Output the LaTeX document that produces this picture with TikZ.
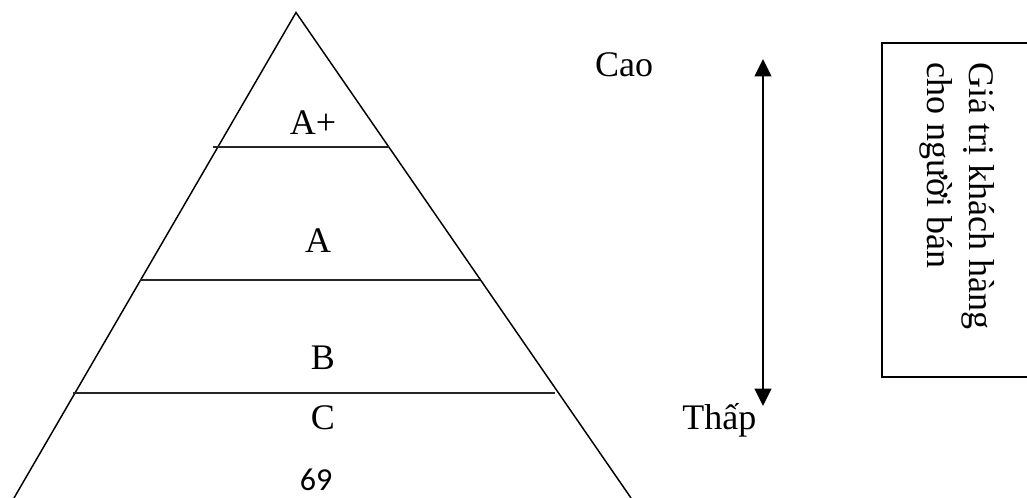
\documentclass[tikz,border=0pt]{standalone}
\usepackage{fontspec}
\setmainfont{Liberation Serif}
\newfontfamily\pagenumfont{Carlito}
\usetikzlibrary{arrows.meta}

\begin{document}
\begin{tikzpicture}[
  x=0.75pt,y=-0.75pt,
  >={Triangle[width=12.5pt,length=13pt]},
  edge/.style={line width=1.1pt,black},
  level/.style={line width=1.5pt,black!85},
  scale arrow/.style={<->,line width=1.5pt,black},
  label/.style={inner sep=0pt,anchor=base,font=\fontsize{27}{32}\selectfont}
]
  \useasboundingbox (0,0) rectangle (1027,498);

  % pyramid
  \coordinate (apex) at (296,12.5);
  \coordinate (baseL) at (14,498);
  \coordinate (baseR) at (631,498);
  \draw[edge] (baseL) -- (apex) -- (baseR);

  \coordinate (aplusL) at (213,147);
  \coordinate (aplusR) at (389,147);
  \coordinate (aL) at (140,280.5);
  \coordinate (aR) at (480,280.5);
  \coordinate (bL) at (73,393.5);
  \coordinate (bR) at (555,393.5);
  \draw[level] (aplusL) -- (aplusR);
  \draw[level] (aL) -- (aR);
  \draw[level] (bL) -- (bR);

  \node[label] (aplus) at (313,135) {A+};
  \node[label] (a) at (318,253) {A};
  \node[label] (b) at (323,370) {B};
  \node[label] (c) at (323,430) {C};
  \node[inner sep=0pt,anchor=base,font=\pagenumfont\fontsize{24}{28}\selectfont]
    (pagenum) at (316,490) {69};

  % high / low scale
  \node[label] (high) at (624,77) {Cao};
  \node[label,anchor=base west] (low) at (682,430) {Thấp};
  \coordinate (arrowtop) at (763,59);
  \coordinate (arrowbot) at (763,406);
  \draw[scale arrow] (arrowbot) -- (arrowtop);

  % value box
  \draw[edge] (1030,43) -- (882,43) -- (882,377) -- (1030,377);
  \node[label,anchor=north west,rotate=-90,align=left] (value) at (995,62)
    {Giá trị khách hàng\\cho người bán};
\end{tikzpicture}
\end{document}
